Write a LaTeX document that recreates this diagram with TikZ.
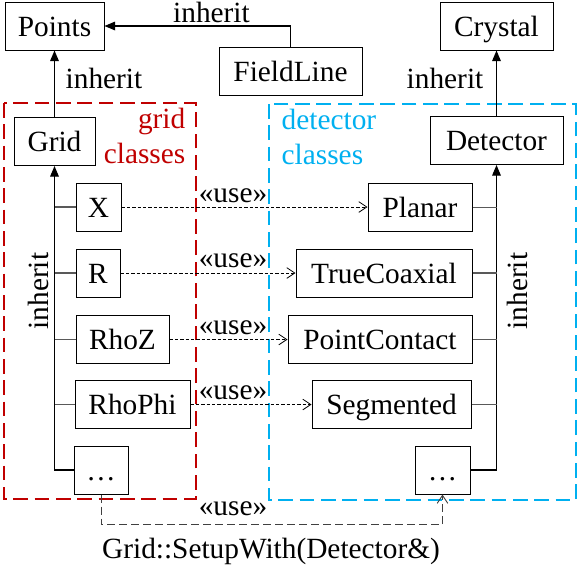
\documentclass[tikz,border=0pt]{standalone}
\usepackage{xcolor}
\usepackage{fontspec}
\setmainfont{Liberation Serif}
\usetikzlibrary{arrows.meta}

\definecolor{gridred}{RGB}{192,0,0}
\definecolor{detblue}{RGB}{0,176,240}

\tikzset{
  every node/.style={font=\fontsize{22}{26.25}\selectfont},
  cls/.style={draw, line width=0.75pt, inner sep=2pt, minimum height=36pt, text height=16pt, text depth=1pt},
  inh/.style={line width=0.9pt, -{Triangle[length=8pt,width=6.5pt]}},
  branch/.style={line width=0.9pt, color=black!65},
  uses/.style={line width=0.6pt, dash pattern=on 2.5pt off 1.5pt, -{Straight Barb[length=6pt,width=8pt]}},
  usebot/.style={line width=0.7pt, color=black!75, dash pattern=on 6pt off 3pt, -{Straight Barb[length=6pt,width=8pt]}},
  frame/.style={line width=1.5pt, dash pattern=on 11pt off 5pt},
}

\begin{document}
\begin{tikzpicture}[x=0.75pt,y=0.75pt,yscale=-1,xscale=1]
\useasboundingbox (0,0) rectangle (585,568);

%Class boxes
\node [cls, minimum width=74.25pt] (points) at (54.5,26) {Points};
\node [cls, minimum width=107.25pt] (fieldline) at (290.5,71.5) {FieldLine};
\node [cls, minimum width=84.75pt] (crystal) at (496.5,26) {Crystal};
\node [cls, minimum width=99.75pt] (detector) at (496.5,140.5) {Detector};
\node [cls, minimum width=60.75pt] (grid) at (54.5,141.5) {Grid};
% grid classes
\node [cls, minimum width=33.75pt] (gx) at (98.5,207) {X};
\node [cls, minimum width=33pt] (gr) at (98,273) {R};
\node [cls, minimum width=69.75pt] (grhoz) at (122.5,339.5) {RhoZ};
\node [cls, minimum width=86.25pt] (grhophi) at (132.5,404.5) {RhoPhi};
\node [cls, minimum width=40.5pt] (gdots) at (101,470) {…};
% detector classes
\node [cls, minimum width=78pt] (dplanar) at (420,207.5) {Planar};
\node [cls, minimum width=132pt] (dcoax) at (384,273) {TrueCoaxial};
\node [cls, minimum width=138pt] (dpc) at (380,339.5) {PointContact};
\node [cls, minimum width=119.25pt] (dseg) at (391.5,404.5) {Segmented};
\node [cls, minimum width=41.25pt] (ddots) at (442.5,470) {…};

%Dashed frames
\draw [frame, gridred] (4,103) rectangle (196,499);
\draw [frame, detblue] (269,104) rectangle (576,500);

%Inheritance
\draw [inh] (fieldline.north) |- (points.east);
\draw [inh] (grid.north) -- (points.south);
\draw [inh] (detector.north) -- (crystal.south);
\draw [inh] (gdots.west) -| (grid.south);
\draw [inh] (ddots.east) -| (detector.south);
\foreach \c in {gx,gr,grhoz,grhophi}
  \draw [branch] (\c.west) -- (\c.west -| grid.south);
\foreach \c in {dplanar,dcoax,dpc,dseg}
  \draw [branch] (\c.east) -- (\c.east -| detector.south);

%Use lines
\draw [uses] (gx.east) -- (gx.east -| dplanar.west);
\draw [uses] (gr.east) -- (gr.east -| dcoax.west);
\draw [uses] (grhoz.east) -- (grhoz.east -| dpc.west);
\draw [uses] (grhophi.east) -- (grhophi.east -| dseg.west);
\draw [usebot] (gdots.south) -- ++(0,30) -| (ddots.south);

% Text Node
\node [anchor=base] (inhfl) at (211.5,22) {inherit};
\node [anchor=base west] (inhgrid) at (61,88) {inherit};
\node [anchor=base east] (inhdet) at (488,88) {inherit};
\node [anchor=base, rotate=90] (inhleft) at (48,291) {inherit};
\node [anchor=base, rotate=90] (inhright) at (527,291) {inherit};
% Text Node
\node [anchor=base east, align=right, text=gridred] (gridlbl) at (190,163) {grid\\classes};
\node [anchor=base west, align=left, text=detblue] (detlbl) at (277,164) {detector\\classes};
% Text Node
\node [anchor=base] (usex) at (233,202) {«use»};
\node [anchor=base] (user) at (233,267) {«use»};
\node [anchor=base] (userhoz) at (233,334) {«use»};
\node [anchor=base] (userhophi) at (233,399) {«use»};
\node [anchor=base] (usedots) at (233,515) {«use»};
\node [anchor=base] (setup) at (271,558) {Grid::SetupWith(Detector\&)};

\end{tikzpicture}
\end{document}
